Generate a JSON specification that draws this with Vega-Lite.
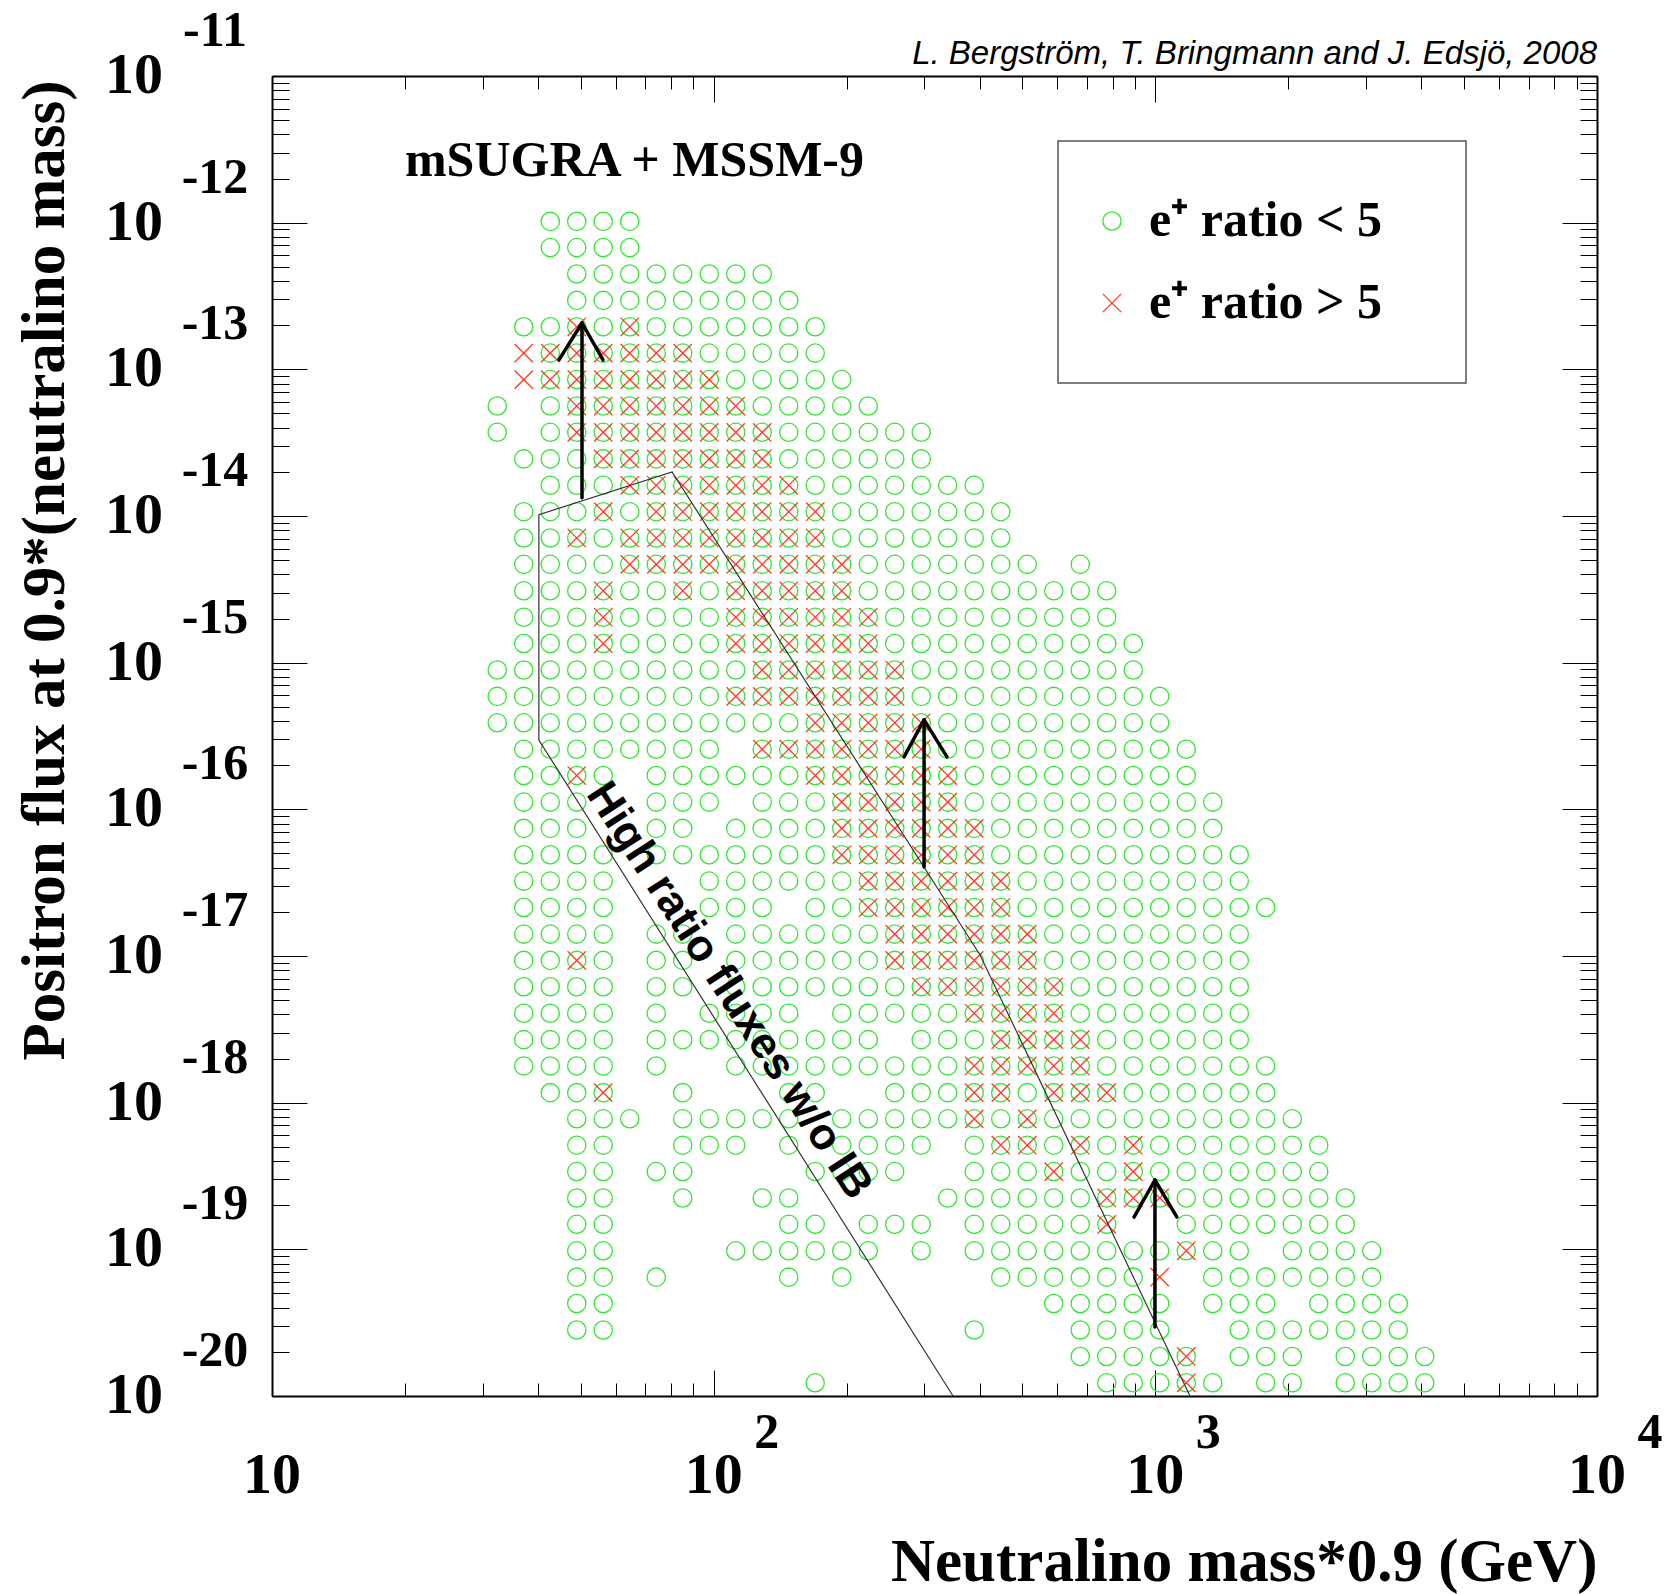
{
"$schema":"https://vega.github.io/schema/vega-lite/v6.json",
"width":1325,"height":1320,
"autosize":{"type":"none"},
"padding":{"left":272,"top":76,"right":68,"bottom":198},
"background":"white",
"config":{"view":{"stroke":null},
"legend":{"orient":"none","legendX":786,"legendY":65,"padding":55,"strokeColor":"#555555","strokeWidth":1.5,"fillColor":"white","rowPadding":32,"symbolSize":335,"symbolStrokeWidth":1.3,"symbolOffset":-26,"labelFont":"Liberation Serif","labelFontWeight":"bold","labelFontSize":50,"labelColor":"black","labelOffset":12,"labelLimit":600,"titleOrient":"right","titlePadding":26,"titleFontSize":10,"titleColor":"white"}},
"datasets":{
"lo":[
{"mass":42.66,"flux":1.02e-12},{"mass":48.98,"flux":1.02e-12},{"mass":56.23,"flux":1.02e-12},{"mass":64.57,"flux":1.02e-12},
{"mass":42.66,"flux":6.76e-13},{"mass":48.98,"flux":6.76e-13},{"mass":56.23,"flux":6.76e-13},{"mass":64.57,"flux":6.76e-13},
{"mass":48.98,"flux":4.47e-13},{"mass":56.23,"flux":4.47e-13},{"mass":64.57,"flux":4.47e-13},{"mass":74.13,"flux":4.47e-13},{"mass":85.11,"flux":4.47e-13},{"mass":97.72,"flux":4.47e-13},{"mass":112.2,"flux":4.47e-13},{"mass":128.8,"flux":4.47e-13},
{"mass":48.98,"flux":2.95e-13},{"mass":56.23,"flux":2.95e-13},{"mass":64.57,"flux":2.95e-13},{"mass":74.13,"flux":2.95e-13},{"mass":85.11,"flux":2.95e-13},{"mass":97.72,"flux":2.95e-13},{"mass":112.2,"flux":2.95e-13},{"mass":128.8,"flux":2.95e-13},{"mass":147.9,"flux":2.95e-13},
{"mass":37.15,"flux":1.95e-13},{"mass":42.66,"flux":1.95e-13},{"mass":48.98,"flux":1.95e-13},{"mass":56.23,"flux":1.95e-13},{"mass":64.57,"flux":1.95e-13},{"mass":74.13,"flux":1.95e-13},{"mass":85.11,"flux":1.95e-13},{"mass":97.72,"flux":1.95e-13},{"mass":112.2,"flux":1.95e-13},{"mass":128.8,"flux":1.95e-13},{"mass":147.9,"flux":1.95e-13},{"mass":169.8,"flux":1.95e-13},
{"mass":42.66,"flux":1.29e-13},{"mass":48.98,"flux":1.29e-13},{"mass":56.23,"flux":1.29e-13},{"mass":64.57,"flux":1.29e-13},{"mass":74.13,"flux":1.29e-13},{"mass":85.11,"flux":1.29e-13},{"mass":97.72,"flux":1.29e-13},{"mass":112.2,"flux":1.29e-13},{"mass":128.8,"flux":1.29e-13},{"mass":147.9,"flux":1.29e-13},{"mass":169.8,"flux":1.29e-13},
{"mass":42.66,"flux":8.51e-14},{"mass":48.98,"flux":8.51e-14},{"mass":56.23,"flux":8.51e-14},{"mass":64.57,"flux":8.51e-14},{"mass":74.13,"flux":8.51e-14},{"mass":85.11,"flux":8.51e-14},{"mass":97.72,"flux":8.51e-14},{"mass":112.2,"flux":8.51e-14},{"mass":128.8,"flux":8.51e-14},{"mass":147.9,"flux":8.51e-14},{"mass":169.8,"flux":8.51e-14},{"mass":195,"flux":8.51e-14},
{"mass":32.36,"flux":5.62e-14},{"mass":42.66,"flux":5.62e-14},{"mass":48.98,"flux":5.62e-14},{"mass":56.23,"flux":5.62e-14},{"mass":64.57,"flux":5.62e-14},{"mass":74.13,"flux":5.62e-14},{"mass":85.11,"flux":5.62e-14},{"mass":97.72,"flux":5.62e-14},{"mass":112.2,"flux":5.62e-14},{"mass":128.8,"flux":5.62e-14},{"mass":147.9,"flux":5.62e-14},{"mass":169.8,"flux":5.62e-14},{"mass":195,"flux":5.62e-14},{"mass":223.9,"flux":5.62e-14},
{"mass":32.36,"flux":3.72e-14},{"mass":42.66,"flux":3.72e-14},{"mass":48.98,"flux":3.72e-14},{"mass":56.23,"flux":3.72e-14},{"mass":64.57,"flux":3.72e-14},{"mass":74.13,"flux":3.72e-14},{"mass":85.11,"flux":3.72e-14},{"mass":97.72,"flux":3.72e-14},{"mass":112.2,"flux":3.72e-14},{"mass":128.8,"flux":3.72e-14},{"mass":147.9,"flux":3.72e-14},{"mass":169.8,"flux":3.72e-14},{"mass":195,"flux":3.72e-14},{"mass":223.9,"flux":3.72e-14},{"mass":257,"flux":3.72e-14},{"mass":295.1,"flux":3.72e-14},
{"mass":37.15,"flux":2.45e-14},{"mass":42.66,"flux":2.45e-14},{"mass":48.98,"flux":2.45e-14},{"mass":56.23,"flux":2.45e-14},{"mass":64.57,"flux":2.45e-14},{"mass":74.13,"flux":2.45e-14},{"mass":85.11,"flux":2.45e-14},{"mass":97.72,"flux":2.45e-14},{"mass":112.2,"flux":2.45e-14},{"mass":128.8,"flux":2.45e-14},{"mass":147.9,"flux":2.45e-14},{"mass":169.8,"flux":2.45e-14},{"mass":195,"flux":2.45e-14},{"mass":223.9,"flux":2.45e-14},{"mass":257,"flux":2.45e-14},{"mass":295.1,"flux":2.45e-14},
{"mass":42.66,"flux":1.62e-14},{"mass":48.98,"flux":1.62e-14},{"mass":56.23,"flux":1.62e-14},{"mass":64.57,"flux":1.62e-14},{"mass":74.13,"flux":1.62e-14},{"mass":85.11,"flux":1.62e-14},{"mass":97.72,"flux":1.62e-14},{"mass":112.2,"flux":1.62e-14},{"mass":128.8,"flux":1.62e-14},{"mass":147.9,"flux":1.62e-14},{"mass":169.8,"flux":1.62e-14},{"mass":195,"flux":1.62e-14},{"mass":223.9,"flux":1.62e-14},{"mass":257,"flux":1.62e-14},{"mass":295.1,"flux":1.62e-14},{"mass":338.8,"flux":1.62e-14},{"mass":389,"flux":1.62e-14},
{"mass":37.15,"flux":1.07e-14},{"mass":42.66,"flux":1.07e-14},{"mass":48.98,"flux":1.07e-14},{"mass":56.23,"flux":1.07e-14},{"mass":64.57,"flux":1.07e-14},{"mass":74.13,"flux":1.07e-14},{"mass":85.11,"flux":1.07e-14},{"mass":97.72,"flux":1.07e-14},{"mass":112.2,"flux":1.07e-14},{"mass":128.8,"flux":1.07e-14},{"mass":147.9,"flux":1.07e-14},{"mass":169.8,"flux":1.07e-14},{"mass":195,"flux":1.07e-14},{"mass":223.9,"flux":1.07e-14},{"mass":257,"flux":1.07e-14},{"mass":295.1,"flux":1.07e-14},{"mass":338.8,"flux":1.07e-14},{"mass":389,"flux":1.07e-14},{"mass":446.7,"flux":1.07e-14},
{"mass":37.15,"flux":7.08e-15},{"mass":42.66,"flux":7.08e-15},{"mass":48.98,"flux":7.08e-15},{"mass":56.23,"flux":7.08e-15},{"mass":64.57,"flux":7.08e-15},{"mass":74.13,"flux":7.08e-15},{"mass":85.11,"flux":7.08e-15},{"mass":97.72,"flux":7.08e-15},{"mass":112.2,"flux":7.08e-15},{"mass":128.8,"flux":7.08e-15},{"mass":147.9,"flux":7.08e-15},{"mass":169.8,"flux":7.08e-15},{"mass":195,"flux":7.08e-15},{"mass":223.9,"flux":7.08e-15},{"mass":257,"flux":7.08e-15},{"mass":295.1,"flux":7.08e-15},{"mass":338.8,"flux":7.08e-15},{"mass":389,"flux":7.08e-15},{"mass":446.7,"flux":7.08e-15},
{"mass":37.15,"flux":4.68e-15},{"mass":42.66,"flux":4.68e-15},{"mass":48.98,"flux":4.68e-15},{"mass":56.23,"flux":4.68e-15},{"mass":64.57,"flux":4.68e-15},{"mass":74.13,"flux":4.68e-15},{"mass":85.11,"flux":4.68e-15},{"mass":97.72,"flux":4.68e-15},{"mass":112.2,"flux":4.68e-15},{"mass":128.8,"flux":4.68e-15},{"mass":147.9,"flux":4.68e-15},{"mass":169.8,"flux":4.68e-15},{"mass":195,"flux":4.68e-15},{"mass":223.9,"flux":4.68e-15},{"mass":257,"flux":4.68e-15},{"mass":295.1,"flux":4.68e-15},{"mass":338.8,"flux":4.68e-15},{"mass":389,"flux":4.68e-15},{"mass":446.7,"flux":4.68e-15},{"mass":512.9,"flux":4.68e-15},{"mass":676.1,"flux":4.68e-15},
{"mass":37.15,"flux":3.09e-15},{"mass":42.66,"flux":3.09e-15},{"mass":48.98,"flux":3.09e-15},{"mass":56.23,"flux":3.09e-15},{"mass":64.57,"flux":3.09e-15},{"mass":74.13,"flux":3.09e-15},{"mass":85.11,"flux":3.09e-15},{"mass":97.72,"flux":3.09e-15},{"mass":112.2,"flux":3.09e-15},{"mass":128.8,"flux":3.09e-15},{"mass":147.9,"flux":3.09e-15},{"mass":169.8,"flux":3.09e-15},{"mass":195,"flux":3.09e-15},{"mass":223.9,"flux":3.09e-15},{"mass":257,"flux":3.09e-15},{"mass":295.1,"flux":3.09e-15},{"mass":338.8,"flux":3.09e-15},{"mass":389,"flux":3.09e-15},{"mass":446.7,"flux":3.09e-15},{"mass":512.9,"flux":3.09e-15},{"mass":588.8,"flux":3.09e-15},{"mass":676.1,"flux":3.09e-15},{"mass":776.2,"flux":3.09e-15},
{"mass":37.15,"flux":2.04e-15},{"mass":42.66,"flux":2.04e-15},{"mass":48.98,"flux":2.04e-15},{"mass":56.23,"flux":2.04e-15},{"mass":64.57,"flux":2.04e-15},{"mass":74.13,"flux":2.04e-15},{"mass":85.11,"flux":2.04e-15},{"mass":97.72,"flux":2.04e-15},{"mass":112.2,"flux":2.04e-15},{"mass":128.8,"flux":2.04e-15},{"mass":147.9,"flux":2.04e-15},{"mass":169.8,"flux":2.04e-15},{"mass":195,"flux":2.04e-15},{"mass":223.9,"flux":2.04e-15},{"mass":257,"flux":2.04e-15},{"mass":295.1,"flux":2.04e-15},{"mass":338.8,"flux":2.04e-15},{"mass":389,"flux":2.04e-15},{"mass":446.7,"flux":2.04e-15},{"mass":512.9,"flux":2.04e-15},{"mass":588.8,"flux":2.04e-15},{"mass":676.1,"flux":2.04e-15},{"mass":776.2,"flux":2.04e-15},
{"mass":37.15,"flux":1.35e-15},{"mass":42.66,"flux":1.35e-15},{"mass":48.98,"flux":1.35e-15},{"mass":56.23,"flux":1.35e-15},{"mass":64.57,"flux":1.35e-15},{"mass":74.13,"flux":1.35e-15},{"mass":85.11,"flux":1.35e-15},{"mass":97.72,"flux":1.35e-15},{"mass":112.2,"flux":1.35e-15},{"mass":128.8,"flux":1.35e-15},{"mass":147.9,"flux":1.35e-15},{"mass":169.8,"flux":1.35e-15},{"mass":195,"flux":1.35e-15},{"mass":223.9,"flux":1.35e-15},{"mass":257,"flux":1.35e-15},{"mass":295.1,"flux":1.35e-15},{"mass":338.8,"flux":1.35e-15},{"mass":389,"flux":1.35e-15},{"mass":446.7,"flux":1.35e-15},{"mass":512.9,"flux":1.35e-15},{"mass":588.8,"flux":1.35e-15},{"mass":676.1,"flux":1.35e-15},{"mass":776.2,"flux":1.35e-15},{"mass":891.3,"flux":1.35e-15},
{"mass":32.36,"flux":8.91e-16},{"mass":37.15,"flux":8.91e-16},{"mass":42.66,"flux":8.91e-16},{"mass":48.98,"flux":8.91e-16},{"mass":56.23,"flux":8.91e-16},{"mass":64.57,"flux":8.91e-16},{"mass":74.13,"flux":8.91e-16},{"mass":85.11,"flux":8.91e-16},{"mass":97.72,"flux":8.91e-16},{"mass":112.2,"flux":8.91e-16},{"mass":128.8,"flux":8.91e-16},{"mass":147.9,"flux":8.91e-16},{"mass":169.8,"flux":8.91e-16},{"mass":195,"flux":8.91e-16},{"mass":223.9,"flux":8.91e-16},{"mass":257,"flux":8.91e-16},{"mass":295.1,"flux":8.91e-16},{"mass":338.8,"flux":8.91e-16},{"mass":389,"flux":8.91e-16},{"mass":446.7,"flux":8.91e-16},{"mass":512.9,"flux":8.91e-16},{"mass":588.8,"flux":8.91e-16},{"mass":676.1,"flux":8.91e-16},{"mass":776.2,"flux":8.91e-16},{"mass":891.3,"flux":8.91e-16},
{"mass":32.36,"flux":5.89e-16},{"mass":37.15,"flux":5.89e-16},{"mass":42.66,"flux":5.89e-16},{"mass":48.98,"flux":5.89e-16},{"mass":56.23,"flux":5.89e-16},{"mass":64.57,"flux":5.89e-16},{"mass":74.13,"flux":5.89e-16},{"mass":85.11,"flux":5.89e-16},{"mass":97.72,"flux":5.89e-16},{"mass":112.2,"flux":5.89e-16},{"mass":128.8,"flux":5.89e-16},{"mass":147.9,"flux":5.89e-16},{"mass":169.8,"flux":5.89e-16},{"mass":195,"flux":5.89e-16},{"mass":223.9,"flux":5.89e-16},{"mass":257,"flux":5.89e-16},{"mass":295.1,"flux":5.89e-16},{"mass":338.8,"flux":5.89e-16},{"mass":389,"flux":5.89e-16},{"mass":446.7,"flux":5.89e-16},{"mass":512.9,"flux":5.89e-16},{"mass":588.8,"flux":5.89e-16},{"mass":676.1,"flux":5.89e-16},{"mass":776.2,"flux":5.89e-16},{"mass":891.3,"flux":5.89e-16},{"mass":1023,"flux":5.89e-16},
{"mass":32.36,"flux":3.89e-16},{"mass":37.15,"flux":3.89e-16},{"mass":42.66,"flux":3.89e-16},{"mass":48.98,"flux":3.89e-16},{"mass":56.23,"flux":3.89e-16},{"mass":64.57,"flux":3.89e-16},{"mass":74.13,"flux":3.89e-16},{"mass":85.11,"flux":3.89e-16},{"mass":97.72,"flux":3.89e-16},{"mass":112.2,"flux":3.89e-16},{"mass":128.8,"flux":3.89e-16},{"mass":147.9,"flux":3.89e-16},{"mass":169.8,"flux":3.89e-16},{"mass":195,"flux":3.89e-16},{"mass":223.9,"flux":3.89e-16},{"mass":257,"flux":3.89e-16},{"mass":295.1,"flux":3.89e-16},{"mass":338.8,"flux":3.89e-16},{"mass":389,"flux":3.89e-16},{"mass":446.7,"flux":3.89e-16},{"mass":512.9,"flux":3.89e-16},{"mass":588.8,"flux":3.89e-16},{"mass":676.1,"flux":3.89e-16},{"mass":776.2,"flux":3.89e-16},{"mass":891.3,"flux":3.89e-16},{"mass":1023,"flux":3.89e-16},
{"mass":37.15,"flux":2.57e-16},{"mass":42.66,"flux":2.57e-16},{"mass":48.98,"flux":2.57e-16},{"mass":56.23,"flux":2.57e-16},{"mass":64.57,"flux":2.57e-16},{"mass":74.13,"flux":2.57e-16},{"mass":85.11,"flux":2.57e-16},{"mass":97.72,"flux":2.57e-16},{"mass":128.8,"flux":2.57e-16},{"mass":147.9,"flux":2.57e-16},{"mass":169.8,"flux":2.57e-16},{"mass":195,"flux":2.57e-16},{"mass":223.9,"flux":2.57e-16},{"mass":257,"flux":2.57e-16},{"mass":295.1,"flux":2.57e-16},{"mass":338.8,"flux":2.57e-16},{"mass":389,"flux":2.57e-16},{"mass":446.7,"flux":2.57e-16},{"mass":512.9,"flux":2.57e-16},{"mass":588.8,"flux":2.57e-16},{"mass":676.1,"flux":2.57e-16},{"mass":776.2,"flux":2.57e-16},{"mass":891.3,"flux":2.57e-16},{"mass":1023,"flux":2.57e-16},{"mass":1175,"flux":2.57e-16},
{"mass":37.15,"flux":1.7e-16},{"mass":42.66,"flux":1.7e-16},{"mass":48.98,"flux":1.7e-16},{"mass":56.23,"flux":1.7e-16},{"mass":74.13,"flux":1.7e-16},{"mass":85.11,"flux":1.7e-16},{"mass":97.72,"flux":1.7e-16},{"mass":112.2,"flux":1.7e-16},{"mass":128.8,"flux":1.7e-16},{"mass":147.9,"flux":1.7e-16},{"mass":169.8,"flux":1.7e-16},{"mass":195,"flux":1.7e-16},{"mass":223.9,"flux":1.7e-16},{"mass":257,"flux":1.7e-16},{"mass":295.1,"flux":1.7e-16},{"mass":338.8,"flux":1.7e-16},{"mass":389,"flux":1.7e-16},{"mass":446.7,"flux":1.7e-16},{"mass":512.9,"flux":1.7e-16},{"mass":588.8,"flux":1.7e-16},{"mass":676.1,"flux":1.7e-16},{"mass":776.2,"flux":1.7e-16},{"mass":891.3,"flux":1.7e-16},{"mass":1023,"flux":1.7e-16},{"mass":1175,"flux":1.7e-16},
{"mass":37.15,"flux":1.12e-16},{"mass":42.66,"flux":1.12e-16},{"mass":48.98,"flux":1.12e-16},{"mass":74.13,"flux":1.12e-16},{"mass":85.11,"flux":1.12e-16},{"mass":97.72,"flux":1.12e-16},{"mass":128.8,"flux":1.12e-16},{"mass":147.9,"flux":1.12e-16},{"mass":169.8,"flux":1.12e-16},{"mass":195,"flux":1.12e-16},{"mass":223.9,"flux":1.12e-16},{"mass":257,"flux":1.12e-16},{"mass":295.1,"flux":1.12e-16},{"mass":338.8,"flux":1.12e-16},{"mass":389,"flux":1.12e-16},{"mass":446.7,"flux":1.12e-16},{"mass":512.9,"flux":1.12e-16},{"mass":588.8,"flux":1.12e-16},{"mass":676.1,"flux":1.12e-16},{"mass":776.2,"flux":1.12e-16},{"mass":891.3,"flux":1.12e-16},{"mass":1023,"flux":1.12e-16},{"mass":1175,"flux":1.12e-16},{"mass":1349,"flux":1.12e-16},
{"mass":37.15,"flux":7.41e-17},{"mass":42.66,"flux":7.41e-17},{"mass":48.98,"flux":7.41e-17},{"mass":74.13,"flux":7.41e-17},{"mass":85.11,"flux":7.41e-17},{"mass":112.2,"flux":7.41e-17},{"mass":128.8,"flux":7.41e-17},{"mass":147.9,"flux":7.41e-17},{"mass":169.8,"flux":7.41e-17},{"mass":195,"flux":7.41e-17},{"mass":223.9,"flux":7.41e-17},{"mass":257,"flux":7.41e-17},{"mass":295.1,"flux":7.41e-17},{"mass":338.8,"flux":7.41e-17},{"mass":389,"flux":7.41e-17},{"mass":446.7,"flux":7.41e-17},{"mass":512.9,"flux":7.41e-17},{"mass":588.8,"flux":7.41e-17},{"mass":676.1,"flux":7.41e-17},{"mass":776.2,"flux":7.41e-17},{"mass":891.3,"flux":7.41e-17},{"mass":1023,"flux":7.41e-17},{"mass":1175,"flux":7.41e-17},{"mass":1349,"flux":7.41e-17},
{"mass":37.15,"flux":4.9e-17},{"mass":42.66,"flux":4.9e-17},{"mass":48.98,"flux":4.9e-17},{"mass":56.23,"flux":4.9e-17},{"mass":74.13,"flux":4.9e-17},{"mass":85.11,"flux":4.9e-17},{"mass":97.72,"flux":4.9e-17},{"mass":112.2,"flux":4.9e-17},{"mass":128.8,"flux":4.9e-17},{"mass":147.9,"flux":4.9e-17},{"mass":169.8,"flux":4.9e-17},{"mass":195,"flux":4.9e-17},{"mass":223.9,"flux":4.9e-17},{"mass":257,"flux":4.9e-17},{"mass":295.1,"flux":4.9e-17},{"mass":338.8,"flux":4.9e-17},{"mass":389,"flux":4.9e-17},{"mass":446.7,"flux":4.9e-17},{"mass":512.9,"flux":4.9e-17},{"mass":588.8,"flux":4.9e-17},{"mass":676.1,"flux":4.9e-17},{"mass":776.2,"flux":4.9e-17},{"mass":891.3,"flux":4.9e-17},{"mass":1023,"flux":4.9e-17},{"mass":1175,"flux":4.9e-17},{"mass":1349,"flux":4.9e-17},{"mass":1549,"flux":4.9e-17},
{"mass":37.15,"flux":3.24e-17},{"mass":42.66,"flux":3.24e-17},{"mass":48.98,"flux":3.24e-17},{"mass":56.23,"flux":3.24e-17},{"mass":97.72,"flux":3.24e-17},{"mass":112.2,"flux":3.24e-17},{"mass":128.8,"flux":3.24e-17},{"mass":147.9,"flux":3.24e-17},{"mass":169.8,"flux":3.24e-17},{"mass":195,"flux":3.24e-17},{"mass":223.9,"flux":3.24e-17},{"mass":257,"flux":3.24e-17},{"mass":295.1,"flux":3.24e-17},{"mass":338.8,"flux":3.24e-17},{"mass":389,"flux":3.24e-17},{"mass":446.7,"flux":3.24e-17},{"mass":512.9,"flux":3.24e-17},{"mass":588.8,"flux":3.24e-17},{"mass":676.1,"flux":3.24e-17},{"mass":776.2,"flux":3.24e-17},{"mass":891.3,"flux":3.24e-17},{"mass":1023,"flux":3.24e-17},{"mass":1175,"flux":3.24e-17},{"mass":1349,"flux":3.24e-17},{"mass":1549,"flux":3.24e-17},
{"mass":37.15,"flux":2.14e-17},{"mass":42.66,"flux":2.14e-17},{"mass":48.98,"flux":2.14e-17},{"mass":56.23,"flux":2.14e-17},{"mass":97.72,"flux":2.14e-17},{"mass":112.2,"flux":2.14e-17},{"mass":128.8,"flux":2.14e-17},{"mass":169.8,"flux":2.14e-17},{"mass":195,"flux":2.14e-17},{"mass":223.9,"flux":2.14e-17},{"mass":257,"flux":2.14e-17},{"mass":295.1,"flux":2.14e-17},{"mass":338.8,"flux":2.14e-17},{"mass":389,"flux":2.14e-17},{"mass":446.7,"flux":2.14e-17},{"mass":512.9,"flux":2.14e-17},{"mass":588.8,"flux":2.14e-17},{"mass":676.1,"flux":2.14e-17},{"mass":776.2,"flux":2.14e-17},{"mass":891.3,"flux":2.14e-17},{"mass":1023,"flux":2.14e-17},{"mass":1175,"flux":2.14e-17},{"mass":1349,"flux":2.14e-17},{"mass":1549,"flux":2.14e-17},{"mass":1778,"flux":2.14e-17},
{"mass":37.15,"flux":1.41e-17},{"mass":42.66,"flux":1.41e-17},{"mass":48.98,"flux":1.41e-17},{"mass":56.23,"flux":1.41e-17},{"mass":74.13,"flux":1.41e-17},{"mass":85.11,"flux":1.41e-17},{"mass":112.2,"flux":1.41e-17},{"mass":128.8,"flux":1.41e-17},{"mass":147.9,"flux":1.41e-17},{"mass":169.8,"flux":1.41e-17},{"mass":195,"flux":1.41e-17},{"mass":223.9,"flux":1.41e-17},{"mass":257,"flux":1.41e-17},{"mass":295.1,"flux":1.41e-17},{"mass":338.8,"flux":1.41e-17},{"mass":389,"flux":1.41e-17},{"mass":446.7,"flux":1.41e-17},{"mass":512.9,"flux":1.41e-17},{"mass":588.8,"flux":1.41e-17},{"mass":676.1,"flux":1.41e-17},{"mass":776.2,"flux":1.41e-17},{"mass":891.3,"flux":1.41e-17},{"mass":1023,"flux":1.41e-17},{"mass":1175,"flux":1.41e-17},{"mass":1349,"flux":1.41e-17},{"mass":1549,"flux":1.41e-17},
{"mass":37.15,"flux":9.33e-18},{"mass":42.66,"flux":9.33e-18},{"mass":48.98,"flux":9.33e-18},{"mass":56.23,"flux":9.33e-18},{"mass":74.13,"flux":9.33e-18},{"mass":85.11,"flux":9.33e-18},{"mass":112.2,"flux":9.33e-18},{"mass":128.8,"flux":9.33e-18},{"mass":147.9,"flux":9.33e-18},{"mass":169.8,"flux":9.33e-18},{"mass":195,"flux":9.33e-18},{"mass":223.9,"flux":9.33e-18},{"mass":257,"flux":9.33e-18},{"mass":295.1,"flux":9.33e-18},{"mass":338.8,"flux":9.33e-18},{"mass":389,"flux":9.33e-18},{"mass":446.7,"flux":9.33e-18},{"mass":512.9,"flux":9.33e-18},{"mass":588.8,"flux":9.33e-18},{"mass":676.1,"flux":9.33e-18},{"mass":776.2,"flux":9.33e-18},{"mass":891.3,"flux":9.33e-18},{"mass":1023,"flux":9.33e-18},{"mass":1175,"flux":9.33e-18},{"mass":1349,"flux":9.33e-18},{"mass":1549,"flux":9.33e-18},
{"mass":37.15,"flux":6.17e-18},{"mass":42.66,"flux":6.17e-18},{"mass":48.98,"flux":6.17e-18},{"mass":56.23,"flux":6.17e-18},{"mass":74.13,"flux":6.17e-18},{"mass":85.11,"flux":6.17e-18},{"mass":112.2,"flux":6.17e-18},{"mass":128.8,"flux":6.17e-18},{"mass":147.9,"flux":6.17e-18},{"mass":169.8,"flux":6.17e-18},{"mass":195,"flux":6.17e-18},{"mass":223.9,"flux":6.17e-18},{"mass":257,"flux":6.17e-18},{"mass":295.1,"flux":6.17e-18},{"mass":338.8,"flux":6.17e-18},{"mass":389,"flux":6.17e-18},{"mass":446.7,"flux":6.17e-18},{"mass":512.9,"flux":6.17e-18},{"mass":588.8,"flux":6.17e-18},{"mass":676.1,"flux":6.17e-18},{"mass":776.2,"flux":6.17e-18},{"mass":891.3,"flux":6.17e-18},{"mass":1023,"flux":6.17e-18},{"mass":1175,"flux":6.17e-18},{"mass":1349,"flux":6.17e-18},{"mass":1549,"flux":6.17e-18},
{"mass":37.15,"flux":4.07e-18},{"mass":42.66,"flux":4.07e-18},{"mass":48.98,"flux":4.07e-18},{"mass":56.23,"flux":4.07e-18},{"mass":74.13,"flux":4.07e-18},{"mass":97.72,"flux":4.07e-18},{"mass":112.2,"flux":4.07e-18},{"mass":128.8,"flux":4.07e-18},{"mass":147.9,"flux":4.07e-18},{"mass":195,"flux":4.07e-18},{"mass":223.9,"flux":4.07e-18},{"mass":257,"flux":4.07e-18},{"mass":295.1,"flux":4.07e-18},{"mass":338.8,"flux":4.07e-18},{"mass":389,"flux":4.07e-18},{"mass":446.7,"flux":4.07e-18},{"mass":512.9,"flux":4.07e-18},{"mass":588.8,"flux":4.07e-18},{"mass":676.1,"flux":4.07e-18},{"mass":776.2,"flux":4.07e-18},{"mass":891.3,"flux":4.07e-18},{"mass":1023,"flux":4.07e-18},{"mass":1175,"flux":4.07e-18},{"mass":1349,"flux":4.07e-18},{"mass":1549,"flux":4.07e-18},
{"mass":37.15,"flux":2.69e-18},{"mass":42.66,"flux":2.69e-18},{"mass":48.98,"flux":2.69e-18},{"mass":56.23,"flux":2.69e-18},{"mass":74.13,"flux":2.69e-18},{"mass":85.11,"flux":2.69e-18},{"mass":97.72,"flux":2.69e-18},{"mass":112.2,"flux":2.69e-18},{"mass":128.8,"flux":2.69e-18},{"mass":147.9,"flux":2.69e-18},{"mass":169.8,"flux":2.69e-18},{"mass":195,"flux":2.69e-18},{"mass":223.9,"flux":2.69e-18},{"mass":295.1,"flux":2.69e-18},{"mass":338.8,"flux":2.69e-18},{"mass":389,"flux":2.69e-18},{"mass":446.7,"flux":2.69e-18},{"mass":512.9,"flux":2.69e-18},{"mass":588.8,"flux":2.69e-18},{"mass":676.1,"flux":2.69e-18},{"mass":776.2,"flux":2.69e-18},{"mass":891.3,"flux":2.69e-18},{"mass":1023,"flux":2.69e-18},{"mass":1175,"flux":2.69e-18},{"mass":1349,"flux":2.69e-18},{"mass":1549,"flux":2.69e-18},
{"mass":37.15,"flux":1.78e-18},{"mass":42.66,"flux":1.78e-18},{"mass":48.98,"flux":1.78e-18},{"mass":56.23,"flux":1.78e-18},{"mass":74.13,"flux":1.78e-18},{"mass":112.2,"flux":1.78e-18},{"mass":128.8,"flux":1.78e-18},{"mass":147.9,"flux":1.78e-18},{"mass":169.8,"flux":1.78e-18},{"mass":195,"flux":1.78e-18},{"mass":223.9,"flux":1.78e-18},{"mass":257,"flux":1.78e-18},{"mass":295.1,"flux":1.78e-18},{"mass":338.8,"flux":1.78e-18},{"mass":389,"flux":1.78e-18},{"mass":446.7,"flux":1.78e-18},{"mass":512.9,"flux":1.78e-18},{"mass":588.8,"flux":1.78e-18},{"mass":676.1,"flux":1.78e-18},{"mass":776.2,"flux":1.78e-18},{"mass":891.3,"flux":1.78e-18},{"mass":1023,"flux":1.78e-18},{"mass":1175,"flux":1.78e-18},{"mass":1349,"flux":1.78e-18},{"mass":1549,"flux":1.78e-18},{"mass":1778,"flux":1.78e-18},
{"mass":42.66,"flux":1.17e-18},{"mass":48.98,"flux":1.17e-18},{"mass":56.23,"flux":1.17e-18},{"mass":85.11,"flux":1.17e-18},{"mass":147.9,"flux":1.17e-18},{"mass":169.8,"flux":1.17e-18},{"mass":257,"flux":1.17e-18},{"mass":295.1,"flux":1.17e-18},{"mass":338.8,"flux":1.17e-18},{"mass":389,"flux":1.17e-18},{"mass":446.7,"flux":1.17e-18},{"mass":512.9,"flux":1.17e-18},{"mass":588.8,"flux":1.17e-18},{"mass":676.1,"flux":1.17e-18},{"mass":776.2,"flux":1.17e-18},{"mass":891.3,"flux":1.17e-18},{"mass":1023,"flux":1.17e-18},{"mass":1175,"flux":1.17e-18},{"mass":1349,"flux":1.17e-18},{"mass":1549,"flux":1.17e-18},{"mass":1778,"flux":1.17e-18},
{"mass":48.98,"flux":7.76e-19},{"mass":56.23,"flux":7.76e-19},{"mass":64.57,"flux":7.76e-19},{"mass":85.11,"flux":7.76e-19},{"mass":97.72,"flux":7.76e-19},{"mass":112.2,"flux":7.76e-19},{"mass":128.8,"flux":7.76e-19},{"mass":147.9,"flux":7.76e-19},{"mass":195,"flux":7.76e-19},{"mass":223.9,"flux":7.76e-19},{"mass":257,"flux":7.76e-19},{"mass":295.1,"flux":7.76e-19},{"mass":338.8,"flux":7.76e-19},{"mass":389,"flux":7.76e-19},{"mass":446.7,"flux":7.76e-19},{"mass":512.9,"flux":7.76e-19},{"mass":588.8,"flux":7.76e-19},{"mass":676.1,"flux":7.76e-19},{"mass":776.2,"flux":7.76e-19},{"mass":891.3,"flux":7.76e-19},{"mass":1023,"flux":7.76e-19},{"mass":1175,"flux":7.76e-19},{"mass":1349,"flux":7.76e-19},{"mass":1549,"flux":7.76e-19},{"mass":1778,"flux":7.76e-19},{"mass":2042,"flux":7.76e-19},
{"mass":48.98,"flux":5.13e-19},{"mass":56.23,"flux":5.13e-19},{"mass":85.11,"flux":5.13e-19},{"mass":97.72,"flux":5.13e-19},{"mass":112.2,"flux":5.13e-19},{"mass":147.9,"flux":5.13e-19},{"mass":195,"flux":5.13e-19},{"mass":223.9,"flux":5.13e-19},{"mass":257,"flux":5.13e-19},{"mass":295.1,"flux":5.13e-19},{"mass":389,"flux":5.13e-19},{"mass":446.7,"flux":5.13e-19},{"mass":512.9,"flux":5.13e-19},{"mass":588.8,"flux":5.13e-19},{"mass":676.1,"flux":5.13e-19},{"mass":776.2,"flux":5.13e-19},{"mass":891.3,"flux":5.13e-19},{"mass":1023,"flux":5.13e-19},{"mass":1175,"flux":5.13e-19},{"mass":1349,"flux":5.13e-19},{"mass":1549,"flux":5.13e-19},{"mass":1778,"flux":5.13e-19},{"mass":2042,"flux":5.13e-19},{"mass":2344,"flux":5.13e-19},
{"mass":48.98,"flux":3.39e-19},{"mass":56.23,"flux":3.39e-19},{"mass":74.13,"flux":3.39e-19},{"mass":85.11,"flux":3.39e-19},{"mass":169.8,"flux":3.39e-19},{"mass":195,"flux":3.39e-19},{"mass":223.9,"flux":3.39e-19},{"mass":257,"flux":3.39e-19},{"mass":389,"flux":3.39e-19},{"mass":446.7,"flux":3.39e-19},{"mass":512.9,"flux":3.39e-19},{"mass":588.8,"flux":3.39e-19},{"mass":676.1,"flux":3.39e-19},{"mass":776.2,"flux":3.39e-19},{"mass":891.3,"flux":3.39e-19},{"mass":1023,"flux":3.39e-19},{"mass":1175,"flux":3.39e-19},{"mass":1349,"flux":3.39e-19},{"mass":1549,"flux":3.39e-19},{"mass":1778,"flux":3.39e-19},{"mass":2042,"flux":3.39e-19},{"mass":2344,"flux":3.39e-19},
{"mass":48.98,"flux":2.24e-19},{"mass":56.23,"flux":2.24e-19},{"mass":85.11,"flux":2.24e-19},{"mass":128.8,"flux":2.24e-19},{"mass":147.9,"flux":2.24e-19},{"mass":338.8,"flux":2.24e-19},{"mass":389,"flux":2.24e-19},{"mass":446.7,"flux":2.24e-19},{"mass":512.9,"flux":2.24e-19},{"mass":588.8,"flux":2.24e-19},{"mass":676.1,"flux":2.24e-19},{"mass":776.2,"flux":2.24e-19},{"mass":891.3,"flux":2.24e-19},{"mass":1023,"flux":2.24e-19},{"mass":1175,"flux":2.24e-19},{"mass":1349,"flux":2.24e-19},{"mass":1549,"flux":2.24e-19},{"mass":1778,"flux":2.24e-19},{"mass":2042,"flux":2.24e-19},{"mass":2344,"flux":2.24e-19},{"mass":2692,"flux":2.24e-19},
{"mass":48.98,"flux":1.48e-19},{"mass":56.23,"flux":1.48e-19},{"mass":147.9,"flux":1.48e-19},{"mass":169.8,"flux":1.48e-19},{"mass":223.9,"flux":1.48e-19},{"mass":257,"flux":1.48e-19},{"mass":295.1,"flux":1.48e-19},{"mass":389,"flux":1.48e-19},{"mass":446.7,"flux":1.48e-19},{"mass":512.9,"flux":1.48e-19},{"mass":588.8,"flux":1.48e-19},{"mass":676.1,"flux":1.48e-19},{"mass":776.2,"flux":1.48e-19},{"mass":1175,"flux":1.48e-19},{"mass":1349,"flux":1.48e-19},{"mass":1549,"flux":1.48e-19},{"mass":1778,"flux":1.48e-19},{"mass":2042,"flux":1.48e-19},{"mass":2344,"flux":1.48e-19},{"mass":2692,"flux":1.48e-19},
{"mass":48.98,"flux":9.77e-20},{"mass":56.23,"flux":9.77e-20},{"mass":112.2,"flux":9.77e-20},{"mass":128.8,"flux":9.77e-20},{"mass":147.9,"flux":9.77e-20},{"mass":169.8,"flux":9.77e-20},{"mass":195,"flux":9.77e-20},{"mass":223.9,"flux":9.77e-20},{"mass":295.1,"flux":9.77e-20},{"mass":389,"flux":9.77e-20},{"mass":446.7,"flux":9.77e-20},{"mass":512.9,"flux":9.77e-20},{"mass":588.8,"flux":9.77e-20},{"mass":676.1,"flux":9.77e-20},{"mass":776.2,"flux":9.77e-20},{"mass":891.3,"flux":9.77e-20},{"mass":1023,"flux":9.77e-20},{"mass":1175,"flux":9.77e-20},{"mass":1349,"flux":9.77e-20},{"mass":1549,"flux":9.77e-20},{"mass":2042,"flux":9.77e-20},{"mass":2344,"flux":9.77e-20},{"mass":2692,"flux":9.77e-20},{"mass":3090,"flux":9.77e-20},
{"mass":48.98,"flux":6.46e-20},{"mass":56.23,"flux":6.46e-20},{"mass":74.13,"flux":6.46e-20},{"mass":147.9,"flux":6.46e-20},{"mass":195,"flux":6.46e-20},{"mass":446.7,"flux":6.46e-20},{"mass":512.9,"flux":6.46e-20},{"mass":588.8,"flux":6.46e-20},{"mass":676.1,"flux":6.46e-20},{"mass":776.2,"flux":6.46e-20},{"mass":891.3,"flux":6.46e-20},{"mass":1349,"flux":6.46e-20},{"mass":1549,"flux":6.46e-20},{"mass":1778,"flux":6.46e-20},{"mass":2042,"flux":6.46e-20},{"mass":2344,"flux":6.46e-20},{"mass":2692,"flux":6.46e-20},{"mass":3090,"flux":6.46e-20},
{"mass":48.98,"flux":4.27e-20},{"mass":56.23,"flux":4.27e-20},{"mass":588.8,"flux":4.27e-20},{"mass":676.1,"flux":4.27e-20},{"mass":776.2,"flux":4.27e-20},{"mass":891.3,"flux":4.27e-20},{"mass":1023,"flux":4.27e-20},{"mass":1349,"flux":4.27e-20},{"mass":1549,"flux":4.27e-20},{"mass":1778,"flux":4.27e-20},{"mass":2344,"flux":4.27e-20},{"mass":2692,"flux":4.27e-20},{"mass":3090,"flux":4.27e-20},{"mass":3548,"flux":4.27e-20},
{"mass":48.98,"flux":2.82e-20},{"mass":56.23,"flux":2.82e-20},{"mass":389,"flux":2.82e-20},{"mass":676.1,"flux":2.82e-20},{"mass":776.2,"flux":2.82e-20},{"mass":891.3,"flux":2.82e-20},{"mass":1023,"flux":2.82e-20},{"mass":1549,"flux":2.82e-20},{"mass":1778,"flux":2.82e-20},{"mass":2042,"flux":2.82e-20},{"mass":2344,"flux":2.82e-20},{"mass":2692,"flux":2.82e-20},{"mass":3090,"flux":2.82e-20},{"mass":3548,"flux":2.82e-20},
{"mass":676.1,"flux":1.86e-20},{"mass":776.2,"flux":1.86e-20},{"mass":891.3,"flux":1.86e-20},{"mass":1023,"flux":1.86e-20},{"mass":1175,"flux":1.86e-20},{"mass":1549,"flux":1.86e-20},{"mass":1778,"flux":1.86e-20},{"mass":2042,"flux":1.86e-20},{"mass":2692,"flux":1.86e-20},{"mass":3090,"flux":1.86e-20},{"mass":3548,"flux":1.86e-20},{"mass":4074,"flux":1.86e-20},
{"mass":169.8,"flux":1.23e-20},{"mass":776.2,"flux":1.23e-20},{"mass":891.3,"flux":1.23e-20},{"mass":1023,"flux":1.23e-20},{"mass":1175,"flux":1.23e-20},{"mass":1349,"flux":1.23e-20},{"mass":1778,"flux":1.23e-20},{"mass":2042,"flux":1.23e-20},{"mass":2692,"flux":1.23e-20},{"mass":3090,"flux":1.23e-20},{"mass":3548,"flux":1.23e-20},{"mass":4074,"flux":1.23e-20}
],
"hi":[
{"mass":48.98,"flux":1.95e-13},{"mass":64.57,"flux":1.95e-13},
{"mass":37.15,"flux":1.29e-13},{"mass":42.66,"flux":1.29e-13},{"mass":48.98,"flux":1.29e-13},{"mass":56.23,"flux":1.29e-13},{"mass":64.57,"flux":1.29e-13},{"mass":74.13,"flux":1.29e-13},{"mass":85.11,"flux":1.29e-13},
{"mass":37.15,"flux":8.51e-14},{"mass":42.66,"flux":8.51e-14},{"mass":48.98,"flux":8.51e-14},{"mass":56.23,"flux":8.51e-14},{"mass":64.57,"flux":8.51e-14},{"mass":74.13,"flux":8.51e-14},{"mass":85.11,"flux":8.51e-14},{"mass":97.72,"flux":8.51e-14},
{"mass":48.98,"flux":5.62e-14},{"mass":56.23,"flux":5.62e-14},{"mass":64.57,"flux":5.62e-14},{"mass":74.13,"flux":5.62e-14},{"mass":85.11,"flux":5.62e-14},{"mass":97.72,"flux":5.62e-14},{"mass":112.2,"flux":5.62e-14},
{"mass":48.98,"flux":3.72e-14},{"mass":56.23,"flux":3.72e-14},{"mass":64.57,"flux":3.72e-14},{"mass":74.13,"flux":3.72e-14},{"mass":85.11,"flux":3.72e-14},{"mass":97.72,"flux":3.72e-14},{"mass":112.2,"flux":3.72e-14},{"mass":128.8,"flux":3.72e-14},
{"mass":56.23,"flux":2.45e-14},{"mass":64.57,"flux":2.45e-14},{"mass":74.13,"flux":2.45e-14},{"mass":85.11,"flux":2.45e-14},{"mass":97.72,"flux":2.45e-14},{"mass":112.2,"flux":2.45e-14},{"mass":128.8,"flux":2.45e-14},
{"mass":64.57,"flux":1.62e-14},{"mass":74.13,"flux":1.62e-14},{"mass":85.11,"flux":1.62e-14},{"mass":97.72,"flux":1.62e-14},{"mass":112.2,"flux":1.62e-14},{"mass":128.8,"flux":1.62e-14},{"mass":147.9,"flux":1.62e-14},
{"mass":56.23,"flux":1.07e-14},{"mass":74.13,"flux":1.07e-14},{"mass":85.11,"flux":1.07e-14},{"mass":97.72,"flux":1.07e-14},{"mass":112.2,"flux":1.07e-14},{"mass":128.8,"flux":1.07e-14},{"mass":147.9,"flux":1.07e-14},{"mass":169.8,"flux":1.07e-14},
{"mass":48.98,"flux":7.08e-15},{"mass":64.57,"flux":7.08e-15},{"mass":74.13,"flux":7.08e-15},{"mass":85.11,"flux":7.08e-15},{"mass":97.72,"flux":7.08e-15},{"mass":112.2,"flux":7.08e-15},{"mass":128.8,"flux":7.08e-15},{"mass":147.9,"flux":7.08e-15},{"mass":169.8,"flux":7.08e-15},
{"mass":64.57,"flux":4.68e-15},{"mass":74.13,"flux":4.68e-15},{"mass":85.11,"flux":4.68e-15},{"mass":97.72,"flux":4.68e-15},{"mass":112.2,"flux":4.68e-15},{"mass":128.8,"flux":4.68e-15},{"mass":147.9,"flux":4.68e-15},{"mass":169.8,"flux":4.68e-15},{"mass":195,"flux":4.68e-15},
{"mass":56.23,"flux":3.09e-15},{"mass":85.11,"flux":3.09e-15},{"mass":112.2,"flux":3.09e-15},{"mass":128.8,"flux":3.09e-15},{"mass":147.9,"flux":3.09e-15},{"mass":169.8,"flux":3.09e-15},{"mass":195,"flux":3.09e-15},
{"mass":56.23,"flux":2.04e-15},{"mass":112.2,"flux":2.04e-15},{"mass":128.8,"flux":2.04e-15},{"mass":147.9,"flux":2.04e-15},{"mass":169.8,"flux":2.04e-15},{"mass":195,"flux":2.04e-15},{"mass":223.9,"flux":2.04e-15},
{"mass":56.23,"flux":1.35e-15},{"mass":112.2,"flux":1.35e-15},{"mass":128.8,"flux":1.35e-15},{"mass":147.9,"flux":1.35e-15},{"mass":169.8,"flux":1.35e-15},{"mass":195,"flux":1.35e-15},{"mass":223.9,"flux":1.35e-15},
{"mass":128.8,"flux":8.91e-16},{"mass":147.9,"flux":8.91e-16},{"mass":169.8,"flux":8.91e-16},{"mass":195,"flux":8.91e-16},{"mass":223.9,"flux":8.91e-16},{"mass":257,"flux":8.91e-16},
{"mass":112.2,"flux":5.89e-16},{"mass":128.8,"flux":5.89e-16},{"mass":147.9,"flux":5.89e-16},{"mass":169.8,"flux":5.89e-16},{"mass":195,"flux":5.89e-16},{"mass":223.9,"flux":5.89e-16},{"mass":257,"flux":5.89e-16},
{"mass":169.8,"flux":3.89e-16},{"mass":195,"flux":3.89e-16},{"mass":223.9,"flux":3.89e-16},{"mass":257,"flux":3.89e-16},{"mass":295.1,"flux":3.89e-16},
{"mass":128.8,"flux":2.57e-16},{"mass":147.9,"flux":2.57e-16},{"mass":169.8,"flux":2.57e-16},{"mass":195,"flux":2.57e-16},{"mass":223.9,"flux":2.57e-16},{"mass":257,"flux":2.57e-16},{"mass":295.1,"flux":2.57e-16},
{"mass":48.98,"flux":1.7e-16},{"mass":169.8,"flux":1.7e-16},{"mass":195,"flux":1.7e-16},{"mass":223.9,"flux":1.7e-16},{"mass":257,"flux":1.7e-16},{"mass":295.1,"flux":1.7e-16},{"mass":338.8,"flux":1.7e-16},
{"mass":195,"flux":1.12e-16},{"mass":223.9,"flux":1.12e-16},{"mass":257,"flux":1.12e-16},{"mass":295.1,"flux":1.12e-16},{"mass":338.8,"flux":1.12e-16},
{"mass":195,"flux":7.41e-17},{"mass":223.9,"flux":7.41e-17},{"mass":257,"flux":7.41e-17},{"mass":295.1,"flux":7.41e-17},{"mass":338.8,"flux":7.41e-17},{"mass":389,"flux":7.41e-17},
{"mass":195,"flux":4.9e-17},{"mass":223.9,"flux":4.9e-17},{"mass":257,"flux":4.9e-17},{"mass":295.1,"flux":4.9e-17},{"mass":338.8,"flux":4.9e-17},{"mass":389,"flux":4.9e-17},
{"mass":223.9,"flux":3.24e-17},{"mass":257,"flux":3.24e-17},{"mass":295.1,"flux":3.24e-17},{"mass":338.8,"flux":3.24e-17},{"mass":389,"flux":3.24e-17},{"mass":446.7,"flux":3.24e-17},
{"mass":223.9,"flux":2.14e-17},{"mass":257,"flux":2.14e-17},{"mass":295.1,"flux":2.14e-17},{"mass":338.8,"flux":2.14e-17},{"mass":389,"flux":2.14e-17},{"mass":446.7,"flux":2.14e-17},
{"mass":257,"flux":1.41e-17},{"mass":295.1,"flux":1.41e-17},{"mass":338.8,"flux":1.41e-17},{"mass":389,"flux":1.41e-17},{"mass":446.7,"flux":1.41e-17},{"mass":512.9,"flux":1.41e-17},
{"mass":48.98,"flux":9.33e-18},{"mass":257,"flux":9.33e-18},{"mass":295.1,"flux":9.33e-18},{"mass":338.8,"flux":9.33e-18},{"mass":389,"flux":9.33e-18},{"mass":446.7,"flux":9.33e-18},{"mass":512.9,"flux":9.33e-18},
{"mass":295.1,"flux":6.17e-18},{"mass":338.8,"flux":6.17e-18},{"mass":389,"flux":6.17e-18},{"mass":446.7,"flux":6.17e-18},{"mass":512.9,"flux":6.17e-18},{"mass":588.8,"flux":6.17e-18},
{"mass":389,"flux":4.07e-18},{"mass":446.7,"flux":4.07e-18},{"mass":512.9,"flux":4.07e-18},{"mass":588.8,"flux":4.07e-18},
{"mass":446.7,"flux":2.69e-18},{"mass":512.9,"flux":2.69e-18},{"mass":588.8,"flux":2.69e-18},{"mass":676.1,"flux":2.69e-18},
{"mass":389,"flux":1.78e-18},{"mass":446.7,"flux":1.78e-18},{"mass":512.9,"flux":1.78e-18},{"mass":588.8,"flux":1.78e-18},{"mass":676.1,"flux":1.78e-18},
{"mass":56.23,"flux":1.17e-18},{"mass":389,"flux":1.17e-18},{"mass":446.7,"flux":1.17e-18},{"mass":588.8,"flux":1.17e-18},{"mass":676.1,"flux":1.17e-18},{"mass":776.2,"flux":1.17e-18},
{"mass":389,"flux":7.76e-19},{"mass":512.9,"flux":7.76e-19},
{"mass":446.7,"flux":5.13e-19},{"mass":512.9,"flux":5.13e-19},{"mass":676.1,"flux":5.13e-19},{"mass":891.3,"flux":5.13e-19},
{"mass":588.8,"flux":3.39e-19},{"mass":891.3,"flux":3.39e-19},
{"mass":776.2,"flux":2.24e-19},{"mass":891.3,"flux":2.24e-19},{"mass":1023,"flux":2.24e-19},
{"mass":776.2,"flux":1.48e-19},
{"mass":1175,"flux":9.77e-20},
{"mass":1023,"flux":6.46e-20},
{"mass":1175,"flux":1.86e-20},
{"mass":1175,"flux":1.23e-20}
],
"poly":[{"mass":348.3,"flux":1e-20,"k":1},{"mass":40.2,"flux":2.97e-16,"k":2},{"mass":40.2,"flux":1.02e-14,"k":3},{"mass":80.5,"flux":2.0e-14,"k":4},{"mass":401,"flux":1.016e-17,"k":5},{"mass":1198,"flux":1e-20,"k":6}],
"arrows":[
{"mass":50.34,"flux":1.33e-14,"mass2":50.34,"flux2":2.07e-13},{"mass":44.65,"flux":1.16e-13,"mass2":50.34,"flux2":2.07e-13},{"mass":56.16,"flux":1.16e-13,"mass2":50.34,"flux2":2.07e-13},
{"mass":299.5,"flux":4.05e-17,"mass2":299.5,"flux2":4.07e-16},{"mass":269.8,"flux":2.28e-16,"mass2":299.5,"flux2":4.07e-16},{"mass":337.5,"flux":2.28e-16,"mass2":299.5,"flux2":4.07e-16},
{"mass":998,"flux":2.96e-20,"mass2":998,"flux2":2.97e-19},{"mass":894.8,"flux":1.66e-19,"mass2":998,"flux2":2.97e-19},{"mass":1119,"flux":1.66e-19,"mass2":998,"flux2":2.97e-19}
],
"ylab":[{"flux":1e-20,"exp":"-20"},{"flux":1e-19,"exp":"-19"},{"flux":1e-18,"exp":"-18"},{"flux":1e-17,"exp":"-17"},{"flux":1e-16,"exp":"-16"},{"flux":1e-15,"exp":"-15"},{"flux":1e-14,"exp":"-14"},{"flux":1e-13,"exp":"-13"},{"flux":1e-12,"exp":"-12"},{"flux":1e-11,"exp":"-11"}],
"xlab":[{"mass":10,"exp":""},{"mass":100,"exp":"2"},{"mass":1000,"exp":"3"},{"mass":10000,"exp":"4"}]
},
"layer":[
{"data":{"name":"lo"},
 "mark":{"type":"point","filled":false,"size":335,"strokeWidth":1.3,"opacity":1},
 "encoding":{
  "x":{"field":"mass","type":"quantitative","scale":{"type":"log","domain":[10,10000],"nice":false},
   "axis":{"orient":"bottom","values":[10,20,30,40,50,60,70,80,90,100,200,300,400,500,600,700,800,900,1000,2000,3000,4000,5000,6000,7000,8000,9000,10000],"labels":false,"grid":false,"domainColor":"black","domainWidth":2,"tickColor":"black","tickWidth":1,
    "tickSize":{"condition":{"test":"abs(log(datum.value)/LN10-round(log(datum.value)/LN10))<0.001","value":-26},"value":-13},
    "title":"Neutralino mass*0.9 (GeV)","titleFont":"Liberation Serif","titleFontSize":61,"titleFontWeight":"bold","titleColor":"black","titleAnchor":"end","titleAlign":"right","titleX":1325,"titleY":184,"titleBaseline":"alphabetic"}},
  "y":{"field":"flux","type":"quantitative","scale":{"type":"log","domain":[1e-20,1e-11],"nice":false},
   "axis":{"orient":"left","values":[1e-20,2e-20,3e-20,4e-20,5e-20,6e-20,7e-20,8e-20,9e-20,1e-19,2e-19,3e-19,4e-19,5e-19,6e-19,7e-19,8e-19,9e-19,1e-18,2e-18,3e-18,4e-18,5e-18,6e-18,7e-18,8e-18,9e-18,1e-17,2e-17,3e-17,4e-17,5e-17,6e-17,7e-17,8e-17,9e-17,1e-16,2e-16,3e-16,4e-16,5e-16,6e-16,7e-16,8e-16,9e-16,1e-15,2e-15,3e-15,4e-15,5e-15,6e-15,7e-15,8e-15,9e-15,1e-14,2e-14,3e-14,4e-14,5e-14,6e-14,7e-14,8e-14,9e-14,1e-13,2e-13,3e-13,4e-13,5e-13,6e-13,7e-13,8e-13,9e-13,1e-12,2e-12,3e-12,4e-12,5e-12,6e-12,7e-12,8e-12,9e-12,1e-11],"labels":false,"grid":false,"domainColor":"black","domainWidth":2,"tickColor":"black","tickWidth":1,
    "tickSize":{"condition":{"test":"abs(log(datum.value)/LN10-round(log(datum.value)/LN10))<0.001","value":-35},"value":-17},
    "title":"Positron flux at 0.9*(neutralino mass)","titleFont":"Liberation Serif","titleFontSize":61,"titleFontWeight":"bold","titleColor":"black","titleAngle":270,"titleAnchor":"end","titleAlign":"right","titleX":-209,"titleY":4,"titleBaseline":"alphabetic"}},
  "color":{"datum":"e⁺ ratio < 5","type":"nominal","scale":{"domain":["e⁺ ratio < 5","e⁺ ratio > 5"],"range":["#33e633","#ff3b1f"]},"legend":{"title":"."}},
  "shape":{"datum":"e⁺ ratio < 5","type":"nominal","scale":{"domain":["e⁺ ratio < 5","e⁺ ratio > 5"],"range":["circle","M-1,-1L1,1M1,-1L-1,1"]},"legend":{"title":"."}}
 }},
{"data":{"name":"hi"},
 "mark":{"type":"point","filled":false,"size":335,"strokeWidth":1.3,"opacity":1},
 "encoding":{
  "x":{"field":"mass","type":"quantitative","scale":{"type":"log","domain":[10,10000],"nice":false},"axis":null},
  "y":{"field":"flux","type":"quantitative","scale":{"type":"log","domain":[1e-20,1e-11],"nice":false},"axis":null},
  "color":{"datum":"e⁺ ratio > 5","type":"nominal","scale":{"domain":["e⁺ ratio < 5","e⁺ ratio > 5"],"range":["#33e633","#ff3b1f"]},"legend":{"title":"."}},
  "shape":{"datum":"e⁺ ratio > 5","type":"nominal","scale":{"domain":["e⁺ ratio < 5","e⁺ ratio > 5"],"range":["circle","M-1,-1L1,1M1,-1L-1,1"]},"legend":{"title":"."}}
 }},
{"data":{"name":"poly"},
 "mark":{"type":"line","color":"#333333","strokeWidth":1.2},
 "encoding":{
  "x":{"field":"mass","type":"quantitative","scale":{"type":"log","domain":[10,10000],"nice":false},
   "axis":{"orient":"top","values":[10,20,30,40,50,60,70,80,90,100,200,300,400,500,600,700,800,900,1000,2000,3000,4000,5000,6000,7000,8000,9000,10000],"labels":false,"grid":false,"domainColor":"black","domainWidth":2,"tickColor":"black","tickWidth":1,
    "tickSize":{"condition":{"test":"abs(log(datum.value)/LN10-round(log(datum.value)/LN10))<0.001","value":-26},"value":-13},"title":null}},
  "y":{"field":"flux","type":"quantitative","scale":{"type":"log","domain":[1e-20,1e-11],"nice":false},
   "axis":{"orient":"right","values":[1e-20,2e-20,3e-20,4e-20,5e-20,6e-20,7e-20,8e-20,9e-20,1e-19,2e-19,3e-19,4e-19,5e-19,6e-19,7e-19,8e-19,9e-19,1e-18,2e-18,3e-18,4e-18,5e-18,6e-18,7e-18,8e-18,9e-18,1e-17,2e-17,3e-17,4e-17,5e-17,6e-17,7e-17,8e-17,9e-17,1e-16,2e-16,3e-16,4e-16,5e-16,6e-16,7e-16,8e-16,9e-16,1e-15,2e-15,3e-15,4e-15,5e-15,6e-15,7e-15,8e-15,9e-15,1e-14,2e-14,3e-14,4e-14,5e-14,6e-14,7e-14,8e-14,9e-14,1e-13,2e-13,3e-13,4e-13,5e-13,6e-13,7e-13,8e-13,9e-13,1e-12,2e-12,3e-12,4e-12,5e-12,6e-12,7e-12,8e-12,9e-12,1e-11],"labels":false,"grid":false,"domainColor":"black","domainWidth":2,"tickColor":"black","tickWidth":1,
    "tickSize":{"condition":{"test":"abs(log(datum.value)/LN10-round(log(datum.value)/LN10))<0.001","value":-35},"value":-17},"title":null}},
  "order":{"field":"k","type":"quantitative"}
 }},
{"data":{"name":"arrows"},
 "mark":{"type":"rule","color":"black","strokeWidth":3.5,"strokeCap":"round"},
 "encoding":{
  "x":{"field":"mass","type":"quantitative","scale":{"type":"log","domain":[10,10000],"nice":false},"axis":null},
  "y":{"field":"flux","type":"quantitative","scale":{"type":"log","domain":[1e-20,1e-11],"nice":false},"axis":null},
  "x2":{"field":"mass2"},"y2":{"field":"flux2"}
 }},
{"data":{"values":[{"mass":20.0,"flux":2.63e-12,"label":"mSUGRA + MSSM-9"}]},
 "mark":{"type":"text","align":"left","baseline":"middle","font":"Liberation Serif","fontWeight":"bold","fontSize":50,"color":"black"},
 "encoding":{
  "x":{"field":"mass","type":"quantitative","scale":{"type":"log","domain":[10,10000],"nice":false},"axis":null},
  "y":{"field":"flux","type":"quantitative","scale":{"type":"log","domain":[1e-20,1e-11],"nice":false},"axis":null},
  "text":{"field":"label"}
 }},
{"data":{"values":[{"label":"L. Bergström, T. Bringmann and J. Edsjö, 2008"}]},
 "mark":{"type":"text","align":"right","baseline":"alphabetic","dy":-12,"font":"Liberation Sans","fontStyle":"italic","fontSize":33,"color":"black"},
 "encoding":{
  "x":{"datum":10000,"type":"quantitative","scale":{"type":"log","domain":[10,10000],"nice":false},"axis":null},
  "y":{"datum":1e-11,"type":"quantitative","scale":{"type":"log","domain":[1e-20,1e-11],"nice":false},"axis":null},
  "text":{"field":"label"}
 }},
{"data":{"values":[{"mass":108.3,"flux":5.78e-18,"label":"High ratio fluxes w/o IB"}]},
 "mark":{"type":"text","align":"center","baseline":"middle","angle":57,"font":"Liberation Sans","fontWeight":"bold","fontSize":44,"color":"black"},
 "encoding":{
  "x":{"field":"mass","type":"quantitative","scale":{"type":"log","domain":[10,10000],"nice":false},"axis":null},
  "y":{"field":"flux","type":"quantitative","scale":{"type":"log","domain":[1e-20,1e-11],"nice":false},"axis":null},
  "text":{"field":"label"}
 }},
{"data":{"name":"ylab"},
 "mark":{"type":"text","text":"10","dx":-138,"align":"center","baseline":"middle","font":"Liberation Serif","fontWeight":"bold","fontSize":58,"color":"black"},
 "encoding":{
  "x":{"datum":10,"type":"quantitative","scale":{"type":"log","domain":[10,10000],"nice":false},"axis":null},
  "y":{"field":"flux","type":"quantitative","scale":{"type":"log","domain":[1e-20,1e-11],"nice":false},"axis":null}
 }},
{"data":{"name":"ylab"},
 "mark":{"type":"text","dx":-57,"dy":-45,"align":"center","baseline":"middle","font":"Liberation Serif","fontWeight":"bold","fontSize":50,"color":"black"},
 "encoding":{
  "x":{"datum":10,"type":"quantitative","scale":{"type":"log","domain":[10,10000],"nice":false},"axis":null},
  "y":{"field":"flux","type":"quantitative","scale":{"type":"log","domain":[1e-20,1e-11],"nice":false},"axis":null},
  "text":{"field":"exp"}
 }},
{"data":{"name":"xlab"},
 "mark":{"type":"text","text":"10","dy":80,"align":"center","baseline":"middle","font":"Liberation Serif","fontWeight":"bold","fontSize":58,"color":"black"},
 "encoding":{
  "x":{"field":"mass","type":"quantitative","scale":{"type":"log","domain":[10,10000],"nice":false},"axis":null},
  "y":{"datum":1e-20,"type":"quantitative","scale":{"type":"log","domain":[1e-20,1e-11],"nice":false},"axis":null}
 }},
{"data":{"name":"xlab"},
 "mark":{"type":"text","dx":53,"dy":37,"align":"center","baseline":"middle","font":"Liberation Serif","fontWeight":"bold","fontSize":50,"color":"black"},
 "encoding":{
  "x":{"field":"mass","type":"quantitative","scale":{"type":"log","domain":[10,10000],"nice":false},"axis":null},
  "y":{"datum":1e-20,"type":"quantitative","scale":{"type":"log","domain":[1e-20,1e-11],"nice":false},"axis":null},
  "text":{"field":"exp"}
 }}
],
"resolve":{"axis":{"x":"independent","y":"independent"}}
}
